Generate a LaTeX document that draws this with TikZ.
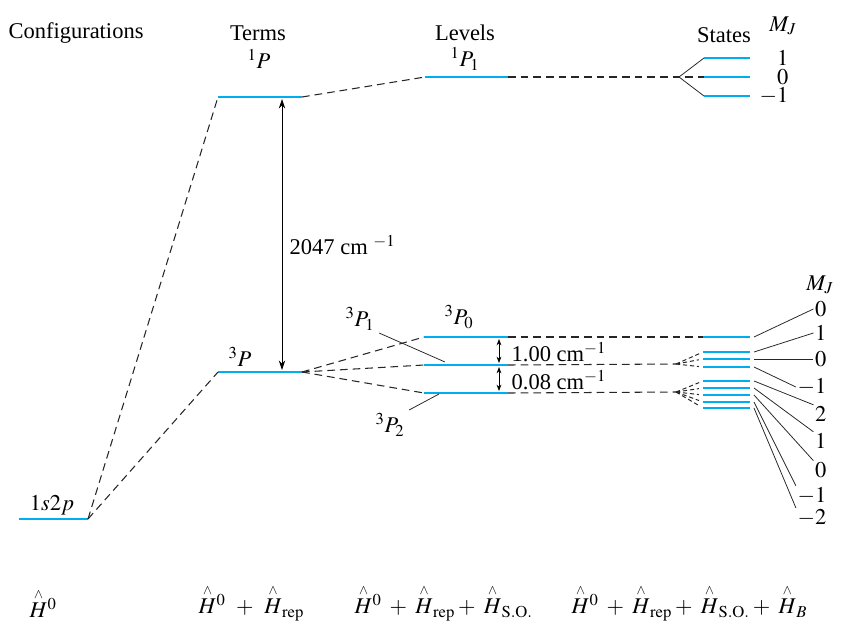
\documentclass[tikz,border=0pt]{standalone}
\usepackage{amsmath}
\usepackage{mathptmx}
\usepackage{fontspec}
\setmainfont{Liberation Serif}
\usetikzlibrary{arrows.meta,calc}

\definecolor{levelblue}{RGB}{0,174,239}
\newcommand{\Hop}{\overset{\scriptscriptstyle\wedge}{H}{}}

\begin{document}
\begin{tikzpicture}[x=0.025cm,y=-0.025cm,>={Stealth[length=2.4mm,width=1.6mm]},
  level/.style={levelblue,line width=2.1pt},
  corr/.style={black!85,line width=0.75pt,dash pattern=on 5.5pt off 3.5pt},
  fan/.style={black!85,line width=0.7pt,dash pattern=on 3pt off 2pt,shorten >=3pt},
  lead/.style={black!85,line width=0.55pt},
  lbl/.style={font=\fontsize{16}{19}\selectfont,inner sep=1pt}]
\useasboundingbox (0,0) rectangle (849,633);

% column headings
\node[lbl] (hcfg) at (76,33) {Configurations};
\node[lbl] (hterm) at (258,33) {Terms};
\node[lbl] (hlev) at (465,33) {Levels};
\node[lbl] (hstat) at (724,35) {States};
\node[lbl] (hmj) at (783,26) {$M_J$};

% energy levels
\coordinate (cfgL) at (19,519);  \coordinate (cfgR) at (88,519);
\coordinate (t1L) at (218,97);   \coordinate (t1R) at (302,97);
\coordinate (t3L) at (218,372);  \coordinate (t3R) at (302,372);
\coordinate (l1L) at (425,77);   \coordinate (l1R) at (508,77);
\coordinate (p0L) at (424,337);  \coordinate (p0R) at (508,337);
\coordinate (p1L) at (424,365);  \coordinate (p1R) at (508,365);
\coordinate (p2L) at (424,393);  \coordinate (p2R) at (508,393);
\foreach \lv in {cfg,t1,t3,l1,p0,p1,p2}
  \draw[level] (\lv L) -- (\lv R);

\node[lbl] (lbcfg) at (52,505) {$1s2p$};
\node[lbl] (lbt1) at (259,59) {$^1P$};
\node[lbl] (lbt3) at (240,357) {$^3P$};
\node[lbl] (lbl1) at (465,59) {$^1P_1$};
\node[lbl] (lbp0) at (459,317) {$^3P_0$};
\node[lbl] (lbp1) at (360,319) {$^3P_1$};
\node[lbl] (lbp2) at (390,425) {$^3P_2$};
\coordinate (p1T) at (445,362);
\coordinate (p2T) at (439,394);
\draw[lead] ($(lbp1.south east)+(3,1)$) -- (p1T);
\draw[lead] ($(lbp2.north east)+(3,-2)$) -- (p2T);

% singlet states
\foreach \y/\m [count=\i] in {58/1,77/0,96/-1} {
  \coordinate (sa\i L) at (704,\y);
  \coordinate (sa\i R) at (750,\y);
  \draw[level,line width=1.8pt] (sa\i L) -- (sa\i R);
  \node[lbl,anchor=east] (mja\i) at (790,\y) {$\m$};
}

% triplet states with M_J labels
\node[lbl] (hmjb) at (820,285) {$M_J$};
\foreach \y/\m/\ly/\an [count=\i] in {337/0/309/west,352/1/333/west,359/0/359/west,367/-1/387/west,
    381/2/414/north west,388/1/441/north west,395/0/470/north west,402/-1/496/north west,408/-2/518/north west} {
  \coordinate (st\i L) at (703,\y);
  \coordinate (st\i R) at (750,\y);
  \draw[level,line width=1.8pt] (st\i L) -- (st\i R);
  \node[lbl,anchor=east] (mjb\i) at (828,\ly) {$\m$};
  \draw[lead] ($(st\i R)+(4,0)$) -- (mjb\i.\an);
}

% correlation lines
\draw[corr] (cfgR) -- (t1L);
\draw[corr] (cfgR) -- (t3L);
\draw[corr] (t1R) -- (l1L);
\foreach \lv in {p0,p1,p2}
  \draw[corr] (t3R) -- (\lv L);

\coordinate (fka) at (679,77);
\coordinate (fkb) at (676,364);
\coordinate (fkc) at (676,392);
\draw[corr] (l1R) -- (fka) -- (sa2L);
\draw[lead] (sa1L) -- (fka) -- (sa3L);
\draw[corr] (p0R) -- (st1L);
\draw[corr] (p1R) -- (fkb);
\draw[corr] (p2R) -- (fkc);
\foreach \i in {2,3,4}
  \draw[fan] (fkb) -- (st\i L);
\foreach \i in {5,...,9}
  \draw[fan] (fkc) -- (st\i L);

% splittings
\coordinate (gapT) at (282,99);
\coordinate (gapB) at (282,370);
\draw[<->,line width=0.6pt] (gapT) -- (gapB);
\node[lbl,anchor=west] (gaplbl) at (288,245) {2047 cm $^{-1}$};
\coordinate (sa) at (499,339);
\coordinate (sb) at (499,365);
\coordinate (sc) at (499,391);
\draw[<->,>={Stealth[length=1.6mm,width=1.2mm]},line width=0.6pt] (sa) -- ($(sb)+(0,-2)$);
\draw[<->,>={Stealth[length=1.6mm,width=1.2mm]},line width=0.6pt] ($(sb)+(0,2)$) -- (sc);
\node[lbl,anchor=west] (splA) at (510,352) {1.00 cm$^{-1}$};
\node[lbl,anchor=west] (splB) at (510,380) {0.08 cm$^{-1}$};

% hamiltonians
\node[lbl,anchor=west] (hamA) at (28,603) {$\Hop^0$};
\node[lbl,anchor=west] (hamB) at (197,603) {$\Hop^0\;\,+\;\,\Hop_{\mathrm{rep}}$};
\node[lbl,anchor=west] (hamC) at (353,603) {$\Hop^0\;+\;\Hop_{\mathrm{rep}}+\;\Hop_{\mathrm{S.O.}}$};
\node[lbl,anchor=west] (hamD) at (570,603) {$\Hop^0\;+\;\Hop_{\mathrm{rep}}+\;\Hop_{\mathrm{S.O.}}+\;\Hop_B$};
\end{tikzpicture}
\end{document}
